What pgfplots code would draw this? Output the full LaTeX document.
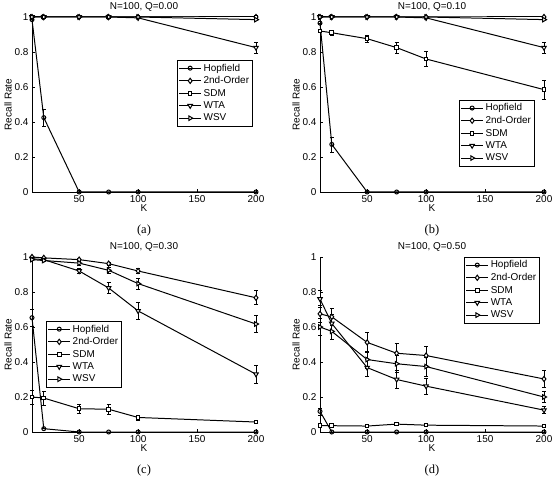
\documentclass[border=0pt]{standalone}
\usepackage{fontspec}
\setmainfont{Liberation Sans}
\newfontfamily\capfont{Liberation Serif}
\usepackage{pgfplots}
\pgfplotsset{compat=1.18}

\tikzset{
  subcap/.style={font=\capfont\fontsize{12.5}{14}\selectfont, yshift=-39bp},
  ptitle/.style={font=\fontsize{10}{12}\selectfont, anchor=base, yshift=7bp},
}

\pgfplotsset{
  rr/.style={
    scale only axis, width=224bp, height=175bp,
    xmin=10, xmax=200, ymin=0, ymax=1,
    xtick={50,100,150,200}, ytick={0,0.2,0.4,0.6,0.8,1},
    axis x line*=bottom, axis y line*=left,
    axis line style={line width=0.6pt, black},
    tick align=inside, major tick length=3bp,
    tick style={black, line width=0.5pt},
    clip=false,
    /pgf/number format/assume math mode=true,
    ticklabel style={font=\fontsize{10}{12}\selectfont},
    label style={font=\fontsize{10}{12}\selectfont},
    xlabel={K}, ylabel={Recall Rate},
    xlabel style={yshift=5bp},
    ylabel style={yshift=-4bp},
    legend style={draw=black, line width=0.5pt, fill=white,
      font=\fontsize{10}{12}\selectfont, inner sep=1.5bp,
      row sep=0bp, anchor=north west},
    legend cell align=left,
    legend image code/.code={%
      \draw[mark repeat=2,mark phase=2] plot coordinates {(0bp,0bp) (11bp,0bp) (22bp,0bp)};},
    every axis plot/.append style={black, line width=1pt},
    error bars/y dir=both, error bars/y explicit,
    error bars/error bar style={line width=0.6pt, black},
    error bars/error mark options={rotate=90, mark size=2bp, line width=0.6pt, black},
  },
  hop/.style={mark=o, mark size=2bp, mark options={fill=white, solid}},
  sec/.style={mark=diamond*, mark size=2.6bp, mark options={fill=white, solid}},
  sdm/.style={mark=square*, mark size=1.8bp, mark options={fill=white, solid}},
  wta/.style={mark=triangle*, mark size=2.6bp, mark options={fill=white, solid, rotate=180}},
  wsv/.style={mark=triangle*, mark size=2.6bp, mark options={fill=white, solid, rotate=-90}},
}

\begin{document}
\begin{tikzpicture}
\useasboundingbox (0,0) rectangle (554bp,478bp);

% (a) Q = 0.00
\begin{axis}[rr, at={(32bp,286bp)}, anchor=south west,
  legend style={at={(0.647,0.754)}}]
\addplot[hop] coordinates {(10,0.985) +- (0,0) (20,0.425) +- (0,0.048) (50,0) +- (0,0) (75,0) +- (0,0) (100,0) +- (0,0) (200,0) +- (0,0)};
\addplot[sec] coordinates {(10,1) +- (0,0) (20,1) +- (0,0) (50,1) +- (0,0) (75,1) +- (0,0) (100,1) +- (0,0) (200,1) +- (0,0)};
\addplot[sdm] coordinates {(10,1) +- (0,0) (20,1) +- (0,0) (50,1) +- (0,0) (75,1) +- (0,0) (100,1) +- (0,0) (200,1) +- (0,0)};
\addplot[wta] coordinates {(10,1) +- (0,0) (20,1) +- (0,0) (50,1) +- (0,0) (75,1) +- (0,0) (100,0.995) +- (0,0.005) (200,0.825) +- (0,0.03)};
\addplot[wsv] coordinates {(10,1) +- (0,0) (20,1) +- (0,0) (50,1) +- (0,0) (75,1) +- (0,0) (100,1) +- (0,0) (200,0.985) +- (0,0.005)};
\legend{Hopfield, 2nd-Order, SDM, WTA, WSV}
\node[ptitle] at (rel axis cs:0.5,1) {N=100, Q=0.00};
\node[subcap] at (rel axis cs:0.5,0) {(a)};
\end{axis}

% (b) Q = 0.10
\begin{axis}[rr, at={(320bp,286bp)}, anchor=south west,
  legend style={at={(0.62,0.526)}}]
\addplot[hop] coordinates {(10,0.965) +- (0,0) (20,0.272) +- (0,0.043) (50,0) +- (0,0) (75,0) +- (0,0) (100,0) +- (0,0) (200,0) +- (0,0)};
\addplot[sec] coordinates {(10,1) +- (0,0) (20,1) +- (0,0) (50,1) +- (0,0) (75,1) +- (0,0) (100,1) +- (0,0) (200,1) +- (0,0)};
\addplot[sdm] coordinates {(10,0.92) +- (0,0) (20,0.91) +- (0,0.015) (50,0.876) +- (0,0.022) (75,0.825) +- (0,0.033) (100,0.76) +- (0,0.042) (200,0.585) +- (0,0.055)};
\addplot[wta] coordinates {(10,1) +- (0,0) (20,1) +- (0,0) (50,1) +- (0,0) (75,1) +- (0,0) (100,0.995) +- (0,0.005) (200,0.825) +- (0,0.033)};
\addplot[wsv] coordinates {(10,1) +- (0,0) (20,1) +- (0,0) (50,1) +- (0,0) (75,1) +- (0,0) (100,1) +- (0,0) (200,0.985) +- (0,0.005)};
\legend{Hopfield, 2nd-Order, SDM, WTA, WSV}
\node[ptitle] at (rel axis cs:0.5,1) {N=100, Q=0.10};
\node[subcap] at (rel axis cs:0.5,0) {(b)};
\end{axis}

% (c) Q = 0.30
\begin{axis}[rr, at={(32bp,46bp)}, anchor=south west,
  legend style={at={(0.0625,0.634)}}]
\addplot[hop] coordinates {(10,0.653) +- (0,0.05) (20,0.019) +- (0,0) (50,0) +- (0,0) (75,0) +- (0,0) (100,0) +- (0,0) (200,0) +- (0,0)};
\addplot[sec] coordinates {(10,1) +- (0,0) (20,0.995) +- (0,0.005) (50,0.985) +- (0,0.007) (75,0.962) +- (0,0.01) (100,0.92) +- (0,0.015) (200,0.767) +- (0,0.04)};
\addplot[sdm] coordinates {(10,0.2) +- (0,0.04) (20,0.194) +- (0,0.04) (50,0.133) +- (0,0.025) (75,0.13) +- (0,0.027) (100,0.083) +- (0,0.015) (200,0.057) +- (0,0.008)};
\addplot[wta] coordinates {(10,0.99) +- (0,0.005) (20,0.985) +- (0,0.007) (50,0.92) +- (0,0.015) (75,0.823) +- (0,0.033) (100,0.692) +- (0,0.05) (200,0.33) +- (0,0.05)};
\addplot[wsv] coordinates {(10,0.985) +- (0,0.005) (20,0.98) +- (0,0.007) (50,0.965) +- (0,0.01) (75,0.924) +- (0,0.015) (100,0.848) +- (0,0.03) (200,0.617) +- (0,0.05)};
\legend{Hopfield, 2nd-Order, SDM, WTA, WSV}
\node[ptitle] at (rel axis cs:0.5,1) {N=100, Q=0.30};
\node[subcap] at (rel axis cs:0.5,0) {(c)};
\end{axis}

% (d) Q = 0.50
\begin{axis}[rr, at={(320bp,46bp)}, anchor=south west,
  legend style={at={(0.643,1.0)}}]
\addplot[hop] coordinates {(10,0.118) +- (0,0.02) (20,0) +- (0,0) (50,0) +- (0,0) (75,0) +- (0,0) (100,0) +- (0,0) (200,0) +- (0,0)};
\addplot[sec] coordinates {(10,0.675) +- (0,0.05) (20,0.658) +- (0,0.05) (50,0.512) +- (0,0.055) (75,0.45) +- (0,0.055) (100,0.437) +- (0,0.055) (200,0.303) +- (0,0.05)};
\addplot[sdm] coordinates {(10,0.037) +- (0,0) (20,0.036) +- (0,0) (50,0.034) +- (0,0) (75,0.045) +- (0,0) (100,0.039) +- (0,0) (200,0.034) +- (0,0)};
\addplot[wta] coordinates {(10,0.76) +- (0,0.05) (20,0.62) +- (0,0.05) (50,0.368) +- (0,0.05) (75,0.3) +- (0,0.05) (100,0.262) +- (0,0.045) (200,0.125) +- (0,0.02)};
\addplot[wsv] coordinates {(10,0.6) +- (0,0.05) (20,0.575) +- (0,0.045) (50,0.414) +- (0,0.05) (75,0.39) +- (0,0.05) (100,0.374) +- (0,0.055) (200,0.2) +- (0,0.03)};
\legend{Hopfield, 2nd-Order, SDM, WTA, WSV}
\node[ptitle] at (rel axis cs:0.5,1) {N=100, Q=0.50};
\node[subcap] at (rel axis cs:0.5,0) {(d)};
\end{axis}
\end{tikzpicture}
\end{document}
